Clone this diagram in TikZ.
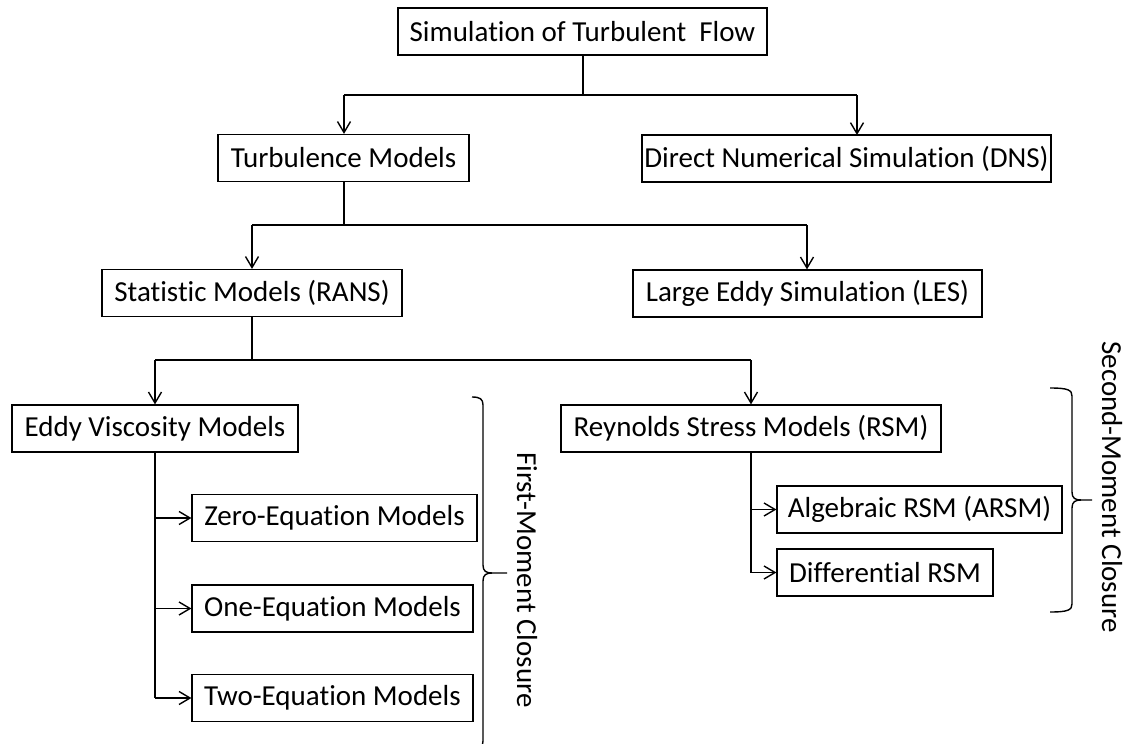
\documentclass[tikz,border=0pt]{standalone}
\usepackage{fontspec}
\setmainfont{Carlito}[Ligatures=NoCommon]
\usetikzlibrary{arrows.meta}
\begin{document}
\begin{tikzpicture}[x=1pt,y=-1pt,
  box/.style={draw,line width=1.2pt,inner sep=0pt,minimum height=47pt,font=\fontsize{29}{33}\selectfont,anchor=center},
  trunk/.style={line width=2pt},
  branch/.style={line width=1.5pt,-{Straight Barb[length=11pt,width=13pt,line width=1.4pt]}},
  bracepath/.style={line width=1.4pt},
  sidelabel/.style={font=\fontsize{29}{33}\selectfont,rotate=-90,inner sep=0pt}]
\useasboundingbox (0,0) rectangle (1130,744);
\clip (0,0) rectangle (1130,744);
% nodes
\node[box,minimum width=369pt] (title) at (582.5,31.5) {Simulation of Turbulent\ \ Flow};
\node[box,minimum width=251pt] (turb) at (343.5,158) {Turbulence Models};
\node[box,minimum width=409pt] (dns) at (846.5,158.5) {Direct Numerical Simulation (DNS)};
\node[box,minimum width=300pt] (rans) at (252,293) {Statistic Models (RANS)};
\node[box,minimum width=349pt] (les) at (807.5,293.5) {Large Eddy Simulation (LES)};
\node[box,minimum width=286pt] (eddy) at (155,428.5) {Eddy Viscosity Models};
\node[box,minimum width=380pt] (rsm) at (751,428.5) {Reynolds Stress Models (RSM)};
\node[box,minimum width=285pt] (zero) at (334.5,518) {Zero-Equation Models};
\node[box,minimum width=281pt] (one) at (332.5,608.5) {One-Equation Models};
\node[box,minimum width=281pt] (two) at (332.5,698) {Two-Equation Models};
\node[box,minimum width=285pt] (arsm) at (919.5,509.5) {Algebraic RSM (ARSM)};
\node[box,minimum width=216pt] (diff) at (885,572.5) {Differential RSM};
% junction coordinates
\coordinate (j1) at (583,95);
\coordinate (j1l) at (344,95);
\coordinate (j1r) at (857,95);
\coordinate (dnsin) at (857,135);
\coordinate (j2) at (344,225);
\coordinate (j2l) at (252,225);
\coordinate (j2r) at (807,225);
\coordinate (j3) at (252,360);
\coordinate (j3l) at (155,360);
\coordinate (j3r) at (751,360);
\coordinate (e1) at (155,518);
\coordinate (e2) at (155,608.5);
\coordinate (e3) at (155,698);
\coordinate (r1) at (751,509.5);
\coordinate (r2) at (751,572.5);
% connectors
\draw[trunk] (title.south -| j1) -- (j1);
\draw[trunk] (j1l) -- (j1r);
\draw[branch] (j1l) -- (turb.north -| j1l);
\draw[branch] (j1r) -- (dnsin);
\draw[trunk] (turb.south -| j2) -- (j2);
\draw[trunk] (j2l) -- (j2r);
\draw[branch] (j2l) -- (rans.north);
\draw[branch] (j2r) -- (les.north -| j2r);
\draw[trunk] (rans.south) -- (j3);
\draw[trunk] (j3l) -- (j3r);
\draw[branch] (j3l) -- (eddy.north);
\draw[branch] (j3r) -- (rsm.north);
\draw[trunk] (eddy.south) -- (e3);
\draw[branch] (e1) -- (zero.west);
\draw[branch] (e2) -- (one.west);
\draw[branch] (e3) -- (two.west);
\draw[trunk] (rsm.south) -- (r2);
\draw[branch] (r1) -- (arsm.west);
\draw[branch] (r2) -- (diff.west);
% braces
\draw[bracepath] (472,397) .. controls (480,397) and (483,399) .. (483,405) -- (483,565)
  .. controls (483,571) and (486,573) .. (492,573) -- (507,573);
\draw[bracepath] (492,573) .. controls (486,573) and (483,575) .. (483,581) -- (483,741)
  .. controls (483,747) and (480,749) .. (472,749);
\draw[bracepath] (1050,388) .. controls (1068,388) and (1072,390) .. (1072,396) -- (1072,492)
  .. controls (1072,498) and (1075,500) .. (1081,500) -- (1092,500);
\draw[bracepath] (1081,500) .. controls (1075,500) and (1072,502) .. (1072,508) -- (1072,604)
  .. controls (1072,610) and (1068,612) .. (1050,612);
% labels
\node[sidelabel] (fmc) at (527,580) {First-Moment Closure};
\node[sidelabel] (smc) at (1112,487) {Second-Moment Closure};
\end{tikzpicture}
\end{document}
